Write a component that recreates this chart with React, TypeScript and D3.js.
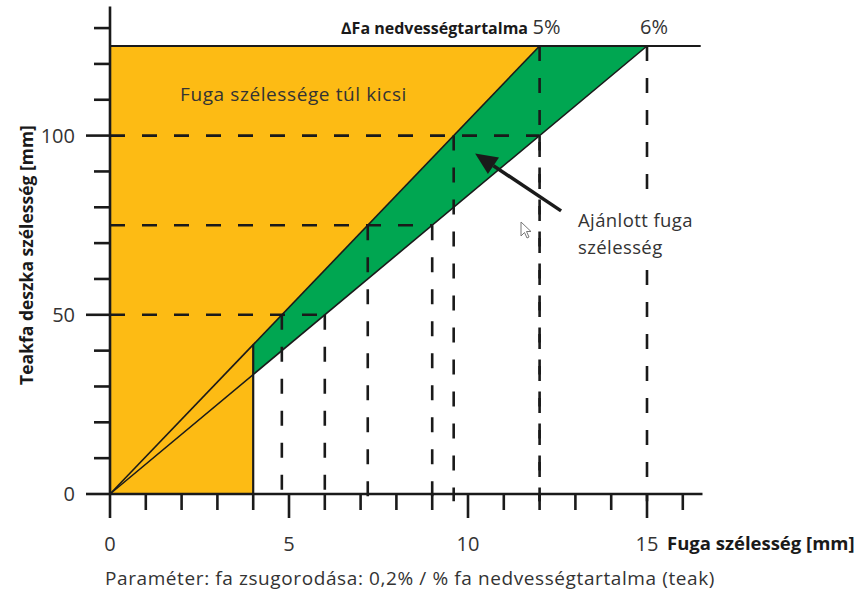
import React, { useEffect, useRef } from 'react';
import * as d3 from 'd3';

// gap width [mm] vs. teak board width [mm]
const moistureLabels = ['5%', '6%'];
const topBoard = 125;
const topGaps = [12, 15]; // gap at 125 mm board for 5% / 6%
const minGap = 4;
const minGapBoards = [41.67, 33.33]; // where the 5% / 6% lines cross the 4 mm limit
const refBoards = [50, 75, 100];
const refGaps5 = [4.8, 7.2, 9.6];
const refGaps6 = [6, 9, 12];
const xTickLabels = [0, 5, 10, 15];
const yTickLabels = [0, 50, 100];

const ORANGE = '#FDBB14';
const GREEN = '#00A651';
const INK = '#1a1a1a';
const TEXT = '#333333';
const FONT = '"Open Sans", "DejaVu Sans", sans-serif';

export default function App() {
  const svgRef = useRef<SVGSVGElement>(null);

  useEffect(() => {
    if (!svgRef.current) return;
    const svg = d3.select(svgRef.current);
    svg.selectAll('*').remove();

    const x = d3.scaleLinear().domain([0, 15]).range([110, 647]);
    const y = d3.scaleLinear().domain([0, 125]).range([494, 46]);
    const line = d3.line<[number, number]>().x(d => x(d[0])).y(d => y(d[1]));

    // areas
    svg.append('path')
      .attr('d', line([[0, 0], [0, topBoard], [topGaps[0], topBoard], [minGap, minGapBoards[0]], [minGap, 0]]) + 'Z')
      .attr('fill', ORANGE);
    svg.append('path')
      .attr('d', line([[minGap, minGapBoards[0]], [topGaps[0], topBoard], [topGaps[1], topBoard], [minGap, minGapBoards[1]]]) + 'Z')
      .attr('fill', GREEN);

    // dashed helper lines
    const dash = svg.append('g')
      .attr('stroke', INK).attr('stroke-width', 2.6).attr('stroke-dasharray', '15,17').attr('fill', 'none');
    refBoards.forEach((b, i) => {
      dash.append('line').attr('x1', x(0)).attr('x2', x(refGaps6[i])).attr('y1', y(b)).attr('y2', y(b));
      [refGaps5[i], refGaps6[i]].forEach(g => {
        dash.append('line').attr('x1', x(g)).attr('x2', x(g)).attr('y1', y(b)).attr('y2', y(-2));
      });
    });
    topGaps.forEach(g => {
      dash.append('line').attr('x1', x(g)).attr('x2', x(g)).attr('y1', y(topBoard)).attr('y2', y(-2));
    });

    // solid lines
    const solid = svg.append('g').attr('stroke', INK).attr('fill', 'none');
    topGaps.forEach(g => {
      solid.append('path').attr('d', line([[0, 0], [g, topBoard]])).attr('stroke-width', 1.6);
    });
    solid.append('line')
      .attr('x1', x(minGap)).attr('x2', x(minGap)).attr('y1', y(0)).attr('y2', y(minGapBoards[0]))
      .attr('stroke-width', 2.2);
    solid.append('line')
      .attr('x1', x(0)).attr('x2', x(16.5)).attr('y1', y(topBoard)).attr('y2', y(topBoard))
      .attr('stroke-width', 2.2);

    // axes
    const ax = svg.append('g').attr('stroke', INK).attr('stroke-width', 2.6);
    ax.append('line').attr('x1', x(0)).attr('x2', x(16.55)).attr('y1', y(0)).attr('y2', y(0));
    ax.append('line').attr('x1', x(0)).attr('x2', x(0)).attr('y1', y(0)).attr('y2', y(136));
    d3.range(0, 17).forEach(v => {
      const major = v % 5 === 0;
      ax.append('line').attr('x1', x(v)).attr('x2', x(v))
        .attr('y1', y(0)).attr('y2', y(0) + (major ? 24 : 16));
    });
    d3.range(0, 140, 10).forEach(v => {
      const major = v % 50 === 0;
      ax.append('line').attr('y1', y(v)).attr('y2', y(v))
        .attr('x1', x(0)).attr('x2', x(0) - (major ? 24 : 16));
    });

    // tick labels
    svg.append('g').selectAll('text').data(xTickLabels).join('text')
      .attr('x', d => x(d)).attr('y', 551)
      .attr('text-anchor', 'middle')
      .attr('font-family', FONT).attr('font-size', 20).attr('fill', TEXT)
      .text(d => d);
    svg.append('g').selectAll('text').data(yTickLabels).join('text')
      .attr('x', 75).attr('y', d => y(d) + 7)
      .attr('text-anchor', 'end')
      .attr('font-family', FONT).attr('font-size', 20).attr('fill', TEXT)
      .text(d => d);

    // axis titles
    svg.append('text')
      .attr('x', 667).attr('y', 550)
      .attr('font-family', FONT).attr('font-weight', 700).attr('font-size', 18.5).attr('fill', INK)
      .text('Fuga szélesség [mm]');
    svg.append('text')
      .attr('transform', `translate(33, 255) rotate(-90)`)
      .attr('text-anchor', 'middle')
      .attr('font-family', FONT).attr('font-weight', 700).attr('font-size', 17.5).attr('fill', INK)
      .text('Teakfa deszka szélesség [mm]');

    // moisture header
    svg.append('text')
      .attr('x', 528).attr('y', 34).attr('text-anchor', 'end')
      .attr('font-family', FONT).attr('font-weight', 700).attr('font-size', 16).attr('fill', INK)
      .text('∆Fa nedvességtartalma');
    svg.append('g').selectAll('text').data(moistureLabels).join('text')
      .attr('x', (d, i) => x(topGaps[i]) + 7).attr('y', 34)
      .attr('text-anchor', 'middle')
      .attr('font-family', FONT).attr('font-size', 20).attr('fill', TEXT)
      .text(d => d);

    // region labels
    svg.append('text')
      .attr('x', 180).attr('y', 101)
      .attr('font-family', FONT).attr('font-size', 19).attr('letter-spacing', 0.6).attr('fill', TEXT)
      .text('Fuga szélessége túl kicsi');
    svg.append('rect')
      .attr('x', 572).attr('y', 200).attr('width', 130).attr('height', 64).attr('fill', '#fff');
    const ann = svg.append('text')
      .attr('font-family', FONT).attr('font-size', 18.5).attr('letter-spacing', 0.4).attr('fill', TEXT);
    ann.append('tspan').attr('x', 578).attr('y', 227).text('Ajánlott fuga');
    ann.append('tspan').attr('x', 578).attr('y', 254).text('szélesség');

    // arrow
    const from: [number, number] = [x(12.6), y(79)];
    const to: [number, number] = [x(10.2), y(95)];
    const ang = Math.atan2(to[1] - from[1], to[0] - from[0]);
    const headLen = 22, headW = 10;
    const base: [number, number] = [to[0] - headLen * Math.cos(ang), to[1] - headLen * Math.sin(ang)];
    svg.append('line')
      .attr('x1', from[0]).attr('y1', from[1]).attr('x2', base[0]).attr('y2', base[1])
      .attr('stroke', INK).attr('stroke-width', 3.5);
    svg.append('path')
      .attr('d', `M${to[0]},${to[1]}L${base[0] - headW * Math.sin(ang)},${base[1] + headW * Math.cos(ang)}L${base[0] + headW * Math.sin(ang)},${base[1] - headW * Math.cos(ang)}Z`)
      .attr('fill', INK);

    // mouse cursor artefact from the screenshot
    svg.append('path')
      .attr('transform', 'translate(521,222)')
      .attr('d', 'M0,0L0,14L3.5,10.5L6,16L8,15L5.5,9.5L10,9.5Z')
      .attr('fill', '#fff').attr('stroke', '#777').attr('stroke-width', 1);

    // footer
    svg.append('text')
      .attr('x', 410).attr('y', 585).attr('text-anchor', 'middle')
      .attr('font-family', FONT).attr('font-size', 19).attr('letter-spacing', 0.6).attr('fill', TEXT)
      .text('Paraméter: fa zsugorodása: 0,2% / % fa nedvességtartalma (teak)');
  }, []);

  return (
    <svg ref={svgRef} width={861} height={596}
      style={{ position: 'absolute', left: 0, top: 0, background: '#fff' }} />
  );
}
